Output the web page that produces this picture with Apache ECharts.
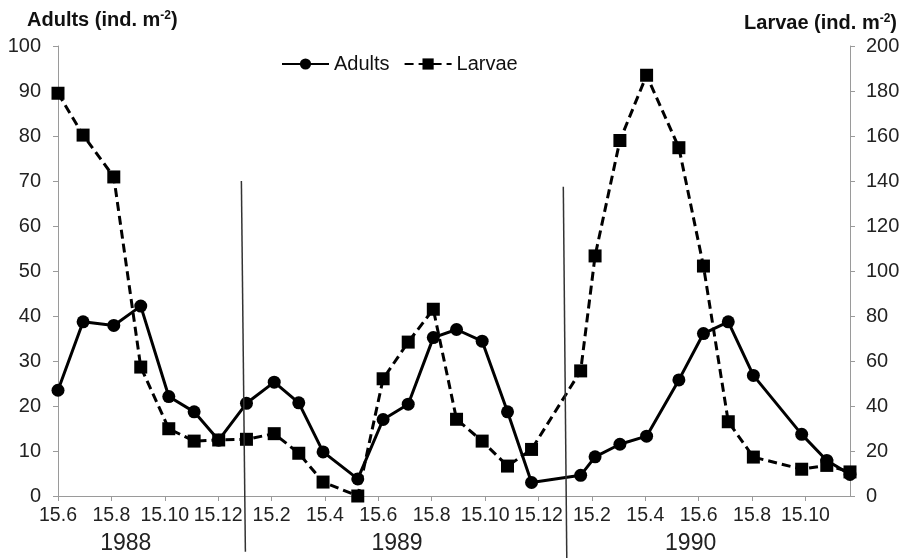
<!DOCTYPE html>
<html>
<head>
<meta charset="utf-8">
<script src="https://cdn.jsdelivr.net/npm/echarts@6/dist/echarts.min.js"></script>
<style>
html,body{margin:0;padding:0;background:#fff;}
#chart{width:907px;height:560px;}
</style>
</head>
<body>
<div id="chart"></div>
<script>
// Sampling dates as months elapsed since 15 June 1988
var sampleMonths = [0, 0.94, 2.09, 3.1, 4.15, 5.1, 6.02, 7.06, 8.1, 9.02, 9.93, 11.23, 12.18, 13.12, 14.06, 14.93, 15.89, 16.84, 17.74, 19.58, 20.12, 21.05, 22.05, 23.26, 24.18, 25.11, 26.05, 27.86, 28.8, 29.67];
var adults = [23.5, 38.7, 37.9, 42.2, 22.1, 18.7, 12.4, 20.6, 25.3, 20.7, 9.8, 3.8, 17.0, 20.4, 35.2, 37.0, 34.4, 18.7, 3.0, 4.6, 8.7, 11.5, 13.3, 25.8, 36.1, 38.7, 26.8, 13.7, 7.9, 4.8];
var larvae = [179, 160.4, 141.8, 57.3, 29.9, 24.4, 24.9, 25.2, 27.7, 19, 6.2, 0, 52.1, 68.4, 83, 34.1, 24.4, 13.3, 20.7, 55.6, 106.7, 158, 187, 154.8, 102.2, 33, 17.3, 11.9, 13.6, 10.7];
var seriesNames = ['Adults', 'Larvae'];
var years = ['1988', '1989', '1990'];
var yearCentres = [2.54, 12.7, 23.7];
var yearSeparators = [[6.87, 70, 7.02, -12.4], [18.93, 68.7, 19.06, -13.8]];
var monthLabels = ['15.1','15.2','15.3','15.4','15.5','15.6','15.7','15.8','15.9','15.10','15.11','15.12'];
var xMax = 29.67;

function pair(xs, ys) { return xs.map(function (x, i) { return [x, ys[i]]; }); }

var FONT = 'Liberation Sans';
var chart = echarts.init(document.getElementById('chart'), null, {renderer: 'canvas'});
var axisGrey = '#9a9a9a';

var option = {
  backgroundColor: '#fff',
  animation: false,
  textStyle: {fontFamily: FONT},
  title: [
    {
      text: 'Adults (ind. m{sup|-2})',
      left: 22, top: 5,
      textStyle: {
        fontFamily: FONT, fontSize: 20, fontWeight: 'bold', color: '#111',
        rich: {sup: {fontFamily: FONT, fontSize: 12, fontWeight: 'bold', color: '#111', verticalAlign: 'top', padding: [0, 0, 9, 0]}}
      }
    },
    {
      text: 'Larvae (ind. m{sup|-2})',
      right: 5, top: 8,
      textStyle: {
        fontFamily: FONT, fontSize: 20, fontWeight: 'bold', color: '#111',
        rich: {sup: {fontFamily: FONT, fontSize: 12, fontWeight: 'bold', color: '#111', verticalAlign: 'top', padding: [0, 0, 9, 0]}}
      }
    }
  ],
  legend: {
    data: seriesNames,
    left: 276, top: 49,
    itemWidth: 47, itemHeight: 14, itemGap: 14,
    textStyle: {fontFamily: FONT, fontSize: 20, color: '#111'}
  },
  grid: {left: 58, right: 57, top: 46, bottom: 64, containLabel: false},
  xAxis: {
    type: 'value', min: 0, max: xMax, interval: 2,
    axisLine: {show: true, onZero: false, lineStyle: {color: axisGrey, width: 1}},
    axisTick: {show: true, inside: false, length: 5, lineStyle: {color: axisGrey}},
    splitLine: {show: false},
    axisLabel: {
      fontFamily: FONT, fontSize: 19.5, color: '#222', margin: 10, showMaxLabel: false,
      formatter: function (v) {
        var r = Math.round(v);
        if (Math.abs(v - r) > 1e-6 || r % 2 !== 0) return '';
        return monthLabels[(5 + r) % 12];
      }
    }
  },
  yAxis: [
    {
      type: 'value', min: 0, max: 100, interval: 10, position: 'left',
      axisLine: {show: true, lineStyle: {color: axisGrey, width: 1}},
      axisTick: {show: true, length: 5, lineStyle: {color: axisGrey}},
      splitLine: {show: false},
      axisLabel: {fontFamily: FONT, fontSize: 20, color: '#222', margin: 17}
    },
    {
      type: 'value', min: 0, max: 200, interval: 20, position: 'right',
      axisLine: {show: true, lineStyle: {color: axisGrey, width: 1}},
      axisTick: {show: true, length: 5, lineStyle: {color: axisGrey}},
      splitLine: {show: false},
      axisLabel: {fontFamily: FONT, fontSize: 20, color: '#222', margin: 16}
    }
  ],
  series: [
    {
      name: seriesNames[0], type: 'line', yAxisIndex: 0,
      data: pair(sampleMonths, adults),
      symbol: 'circle', symbolSize: 13,
      lineStyle: {color: '#000', width: 3},
      itemStyle: {color: '#000'},
      clip: false, z: 3
    },
    {
      name: seriesNames[1], type: 'line', yAxisIndex: 1,
      data: pair(sampleMonths, larvae),
      symbol: 'rect', symbolSize: 13,
      lineStyle: {color: '#000', width: 3, type: [9, 5]},
      itemStyle: {color: '#000'},
      clip: false, z: 2
    }
  ]
};
chart.setOption(option);

var graphics = [];
yearSeparators.forEach(function (s) {
  var p1 = chart.convertToPixel({xAxisIndex: 0, yAxisIndex: 0}, [s[0], s[1]]);
  var p2 = chart.convertToPixel({xAxisIndex: 0, yAxisIndex: 0}, [s[2], s[3]]);
  graphics.push({type: 'line', shape: {x1: p1[0], y1: p1[1], x2: p2[0], y2: p2[1]}, style: {stroke: '#333', lineWidth: 1.5}, z: 10});
});
years.forEach(function (y, i) {
  var p = chart.convertToPixel({xAxisIndex: 0, yAxisIndex: 0}, [yearCentres[i], 0]);
  graphics.push({type: 'text', x: p[0], y: p[1] + 48, style: {text: y, fontFamily: FONT, fontSize: 23, fill: '#222', textAlign: 'center', textVerticalAlign: 'middle'}, z: 10});
});
chart.setOption({graphic: graphics});
</script>
</body>
</html>
